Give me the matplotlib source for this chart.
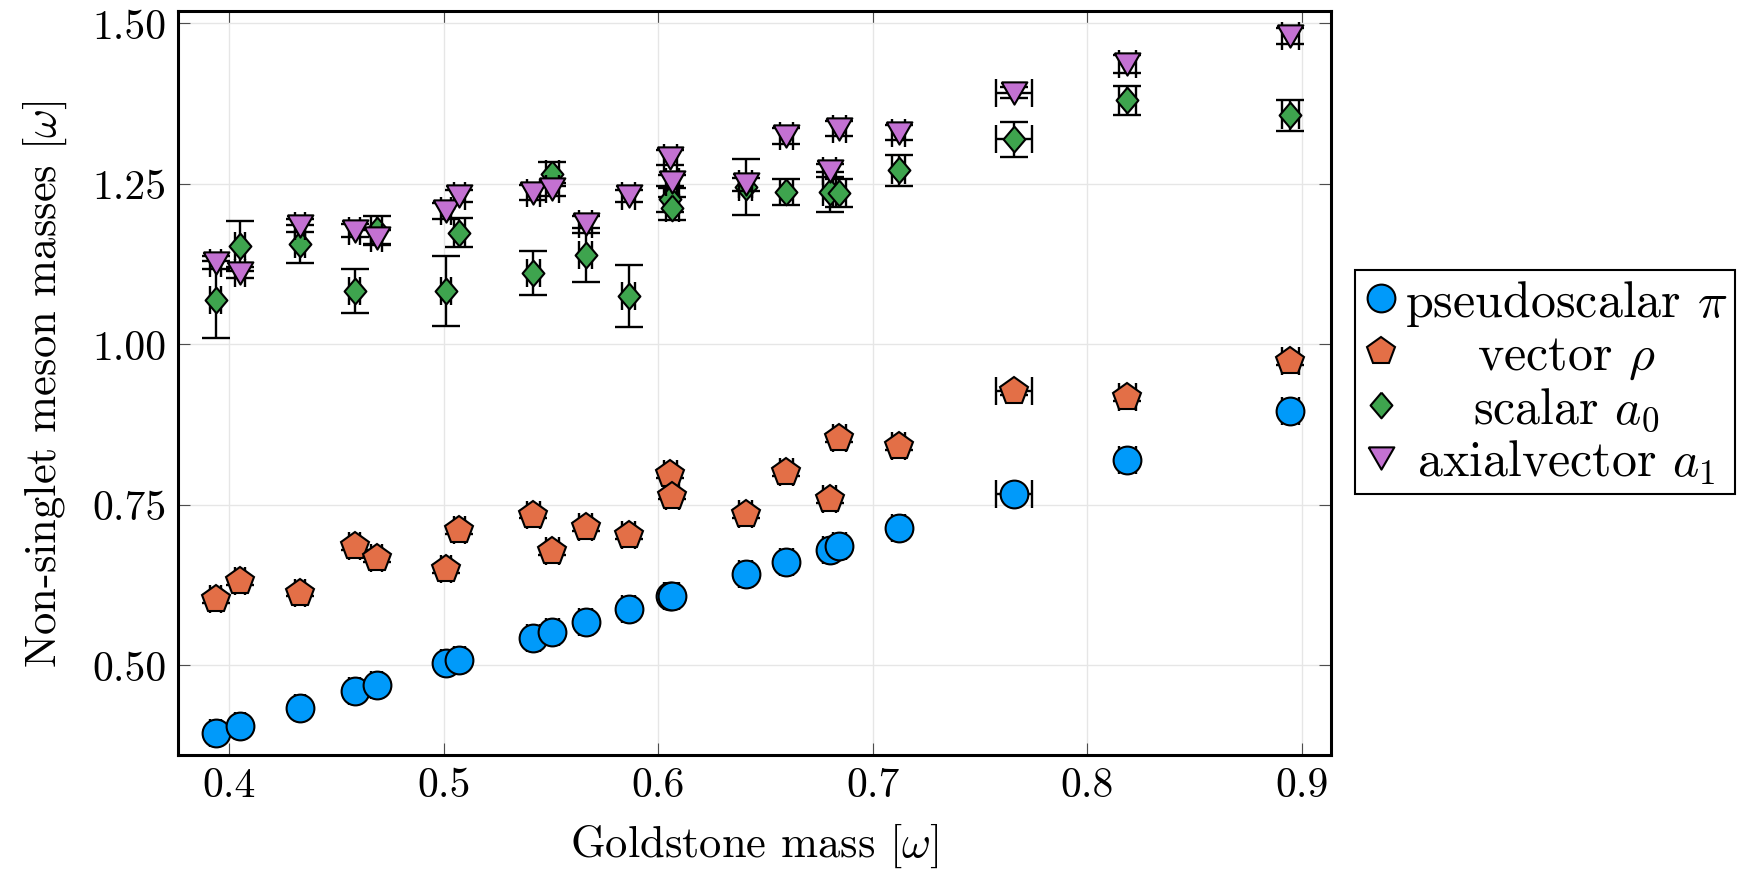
import numpy as np
import matplotlib.pyplot as plt
from matplotlib.ticker import FormatStrFormatter

plt.rcParams.update({
    'font.family': 'serif',
    'font.serif': ['cmr10'],
    'mathtext.fontset': 'cm',
    'axes.formatter.use_mathtext': True,
})

# Goldstone (pion) mass on x, per ensemble
gold = [0.3937, 0.4050, 0.4330, 0.4585, 0.4687, 0.5010, 0.5072, 0.5417, 0.5506, 0.5662, 0.5863,
        0.6055, 0.6065, 0.6408, 0.6597, 0.6799, 0.6843, 0.7121, 0.7658, 0.8186, 0.8946]
gold_err = [0.0025, 0.0025, 0.0025, 0.0025, 0.0025, 0.0025, 0.0025, 0.003, 0.003, 0.003, 0.003,
            0.003, 0.003, 0.003, 0.003, 0.003, 0.003, 0.003, 0.0086, 0.004, 0.004]

pion = [0.3945, 0.4055, 0.4335, 0.4590, 0.4688, 0.5026, 0.5078, 0.5425, 0.5509, 0.5670, 0.5872,
        0.6068, 0.6068, 0.6417, 0.6604, 0.6797, 0.6849, 0.7130, 0.7672, 0.8198, 0.8964]
pion_err = [0.003] * 21

vector = [0.6026, 0.6302, 0.6130, 0.6849, 0.6661, 0.6495, 0.7109, 0.7344, 0.6781, 0.7156, 0.7026,
          0.7979, 0.7641, 0.7354, 0.8005, 0.7589, 0.8542, 0.8406, 0.9271, 0.9177, 0.9740]
vector_err = [0.006] * 21

scalar = [1.069, 1.1532, 1.1558, 1.0831, 1.178, 1.0831, 1.174, 1.1106, 1.2648, 1.1391, 1.0753,
          1.226, 1.212, 1.245, 1.2373, 1.237, 1.236, 1.271, 1.3193, 1.380, 1.3567]
scalar_err = [0.060, 0.039, 0.030, 0.034, 0.022, 0.054, 0.023, 0.034, 0.019, 0.042, 0.048,
              0.020, 0.018, 0.044, 0.020, 0.031, 0.022, 0.024, 0.027, 0.023, 0.024]

axial = [1.1272, 1.1116, 1.1843, 1.1765, 1.1662, 1.2077, 1.231, 1.2362, 1.2414, 1.1869, 1.231,
         1.2908, 1.2529, 1.2492, 1.3245, 1.27, 1.3359, 1.3297, 1.392, 1.4361, 1.4803]
axial_err = [0.010, 0.008, 0.010, 0.010, 0.012, 0.012, 0.010, 0.012, 0.010, 0.013, 0.010,
             0.012, 0.010, 0.010, 0.012, 0.010, 0.012, 0.012, 0.008, 0.014, 0.012]

labels = ['pseudoscalar $\\pi$', 'vector $\\rho$', 'scalar $a_0$', 'axialvector $a_1$']
colors = ['#009AFA', '#E36F47', '#3EA44E', '#C371D2']

diamond = [(0, 1), (0.85, 0), (0, -1), (-0.85, 0), (0, 1)]
dtriangle = [(-1, 0.866), (1, 0.866), (0, -0.866), (-1, 0.866)]
markers = ['o', 'p', diamond, dtriangle]
msizes = [20, 20.5, 18.5, 18.5]

fig = plt.figure(figsize=(17.47, 8.70), dpi=100)
ax = fig.add_axes([178 / 1747, 114 / 870, 1153 / 1747, 744 / 870])

handles = []
series = [(pion, pion_err), (vector, vector_err), (scalar, scalar_err), (axial, axial_err)]
for i, (vals, errs) in enumerate(series):
    ax.errorbar(gold, vals, xerr=gold_err, yerr=errs, fmt='none', ecolor='black',
                elinewidth=1.7, capsize=10, capthick=1.7, zorder=3 + 2 * i)
    h, = ax.plot(gold, vals, linestyle='none', marker=markers[i], markersize=msizes[i],
                 markerfacecolor=colors[i], markeredgecolor='black', markeredgewidth=1.5,
                 zorder=4 + 2 * i)
    handles.append(h)

ax.set_xlim(0.3761, 0.9136)
ax.set_ylim(0.3598, 1.5192)
ax.set_xticks([0.4, 0.5, 0.6, 0.7, 0.8, 0.9])
ax.set_yticks([0.5, 0.75, 1.0, 1.25, 1.5])
ax.xaxis.set_major_formatter(FormatStrFormatter('%.1f'))
ax.yaxis.set_major_formatter(FormatStrFormatter('%.2f'))
ax.tick_params(direction='in', length=8.6, width=0.8, color='0.3', top=True, right=True,
               labelsize=30, pad=8)
ax.grid(True, color='0.9', linewidth=1.0, zorder=0)
ax.set_axisbelow(True)
for s in ax.spines.values():
    s.set_linewidth(2.2)

ax.set_xlabel('Goldstone mass $[\\omega]$', fontsize=32, labelpad=12)
ax.set_ylabel('Non-singlet meson masses $[\\omega]$', fontsize=32, labelpad=17)

leg = fig.legend(handles, labels, loc='center left', bbox_to_anchor=(1355 / 1747, 1 - 383 / 870),
                 fontsize=36, frameon=True, fancybox=False, edgecolor='black', framealpha=1,
                 handlelength=0.75, handletextpad=0.1, borderpad=0.15, labelspacing=0.1,
                 borderaxespad=0)
leg.get_frame().set_linewidth(1.5)

# centre the legend texts in their column, markers stay on the left
fig.canvas.draw()
renderer = fig.canvas.get_renderer()
widths = [t.get_window_extent(renderer).width for t in leg.get_texts()]
for t, w in zip(leg.get_texts(), widths):
    t.set_position(((max(widths) - w) / 2, 0))

fig.savefig('out.png', dpi=100)
